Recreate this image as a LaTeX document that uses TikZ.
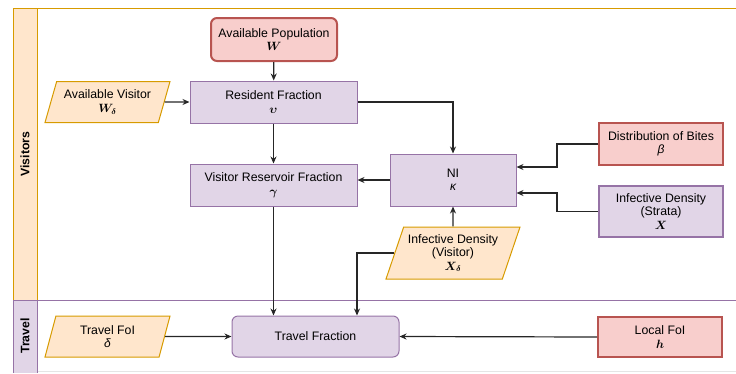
\documentclass[tikz,border=0pt]{standalone}
\usepackage{bm}
\usepackage{fontspec}
\setmainfont{Liberation Sans}
\usetikzlibrary{shapes.geometric,arrows.meta}
\definecolor{procfill}{HTML}{E1D5E7}
\definecolor{procline}{HTML}{9673A6}
\definecolor{srcfill}{HTML}{F8CECC}
\definecolor{srcline}{HTML}{B85450}
\definecolor{datfill}{HTML}{FFE6CC}
\definecolor{datline}{HTML}{D79B00}
\newcommand{\sym}[1]{{\large$\bm{#1}$}}
\newcommand{\gsym}[1]{{\large\itshape #1}}
\tikzset{
  procbox/.style={draw=procline,fill=procfill,line width=1pt,minimum width=167pt,minimum height=42pt,align=center,inner sep=1pt},
  srcbox/.style={draw=srcline,fill=srcfill,line width=2pt,minimum width=124pt,minimum height=40pt,align=center,inner sep=1pt},
  datpara/.style={draw=datline,fill=datfill,line width=1pt,trapezium,trapezium left angle=66,trapezium right angle=114,
    trapezium stretches body=true,minimum width=125pt,minimum height=41pt,align=center,inner sep=1pt},
  flow/.style={-{Stealth[length=7pt,width=6pt]},line width=1.2pt,draw=black!85},
}
\begin{document}
\begin{tikzpicture}[x=1pt,y=-1pt,font=\fontsize{12.3}{13.5}\selectfont]
  \useasboundingbox (0,0) rectangle (736,373);
  % lanes
  \fill[datfill] (13,8) rectangle (37,300);
  \draw[datline,line width=1pt] (736,8) -- (13,8) -- (13,300);
  \draw[datline,line width=1pt] (37,8) -- (37,300);
  \fill[procfill] (13,300) rectangle (37,373);
  \draw[black!10,line width=1pt] (37,371) -- (736,371);
  \draw[procline,line width=1pt] (736,300) -- (13,300) -- (13,373);
  \draw[procline,line width=1pt] (37,300) -- (37,373);
  \node[rotate=90,font=\fontsize{12.3}{13.5}\selectfont\bfseries] (lvis) at (25,154) {Visitors};
  \node[rotate=90,font=\fontsize{12.3}{13.5}\selectfont\bfseries] (ltra) at (25,336) {Travel};
  % nodes
  \node[srcbox,rounded corners=6pt,minimum width=126pt,minimum height=43pt] (pop) at (274,39.5) {Available Population\\\sym{W}};
  \node[procbox] (resid) at (273.5,102) {Resident Fraction\\\sym{\upsilon}};
  \node[datpara] (visit) at (107.5,102) {Available Visitor\\\sym{W_\delta}};
  \node[procbox] (reserv) at (273.5,185) {Visitor Reservoir Fraction\\\sym{\gamma}};
  \node[procbox,minimum width=126pt,minimum height=52pt] (ni) at (453,180) {NI\\\gsym{κ}};
  \node[srcbox,minimum height=42pt] (bites) at (661,144) {Distribution of Bites\\\gsym{β}};
  \node[procbox,line width=2pt,minimum width=124pt,minimum height=51pt] (strata) at (661,211.5) {Infective Density\\(Strata)\\\sym{X}};
  \node[datpara,minimum width=134pt,minimum height=52pt] (xvis) at (453,253) {Infective Density\\(Visitor)\\\sym{X_\delta}};
  \node[datpara] (tfoi) at (107.5,336.5) {Travel FoI\\\gsym{δ}};
  \node[procbox,rounded corners=6pt,minimum height=41pt] (travel) at (315.5,336.5) {Travel Fraction};
  \node[srcbox,minimum height=40pt] (lfoi) at (660,337) {Local FoI\\\sym{h}};
  % connectors
  \draw[flow] (pop) -- (resid);
  \draw[flow] (visit) -- (resid);
  \draw[flow] (resid.east) -| (ni.north);
  \draw[flow] (resid) -- (reserv);
  \draw[flow] (ni.west) -- (reserv.east |- ni.west);
  \draw[flow] (bites.west) -- ++(-41,0) |- ([yshift=13pt]ni.east);
  \draw[flow] (strata.west) -- ++(-41,0) |- ([yshift=-13pt]ni.east);
  \draw[flow] (xvis.north) -- (ni.south);
  \draw[flow] (xvis.west) -| ([xshift=41.5pt]travel.north);
  \draw[flow] (reserv.south) -- (reserv.south |- travel.north);
  \draw[flow] (tfoi.east) -- (travel.west);
  \draw[flow] (lfoi.west) -- (travel.east);
\end{tikzpicture}
\end{document}
